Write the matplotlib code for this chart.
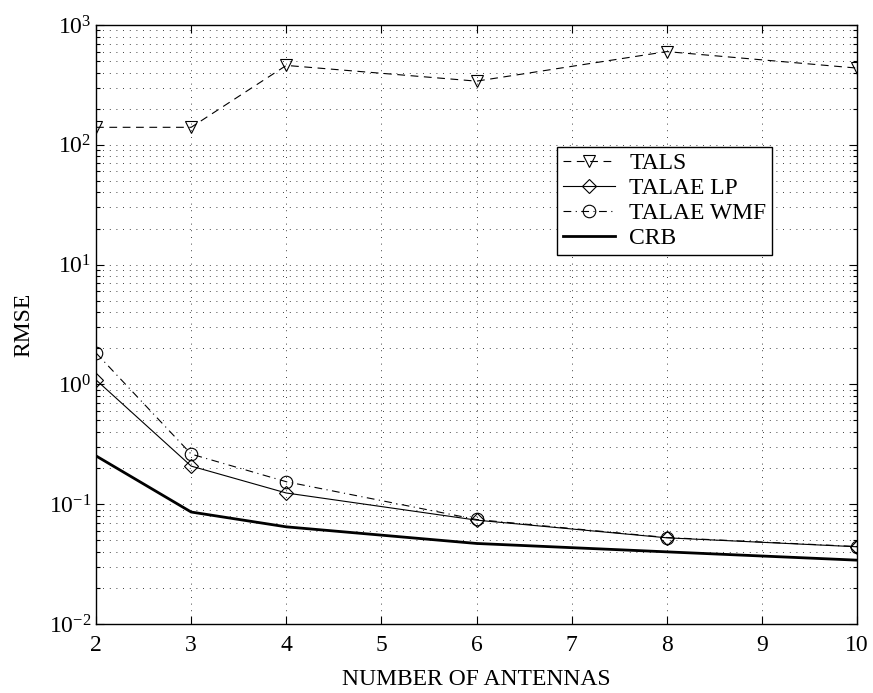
import matplotlib
matplotlib.use("Agg")
import matplotlib.pyplot as plt
from matplotlib.ticker import LogLocator, NullFormatter

plt.rcParams['font.family'] = ['Liberation Serif', 'DejaVu Serif']
plt.rcParams['mathtext.fontset'] = 'custom'
plt.rcParams['mathtext.rm'] = 'Liberation Serif'
plt.rcParams['mathtext.it'] = 'Liberation Serif:italic'

# Number of antennas and RMSE of each estimator
antennas = [2, 3, 4, 6, 8, 10]
tals = [140, 140, 460, 340, 600, 437]
talae_lp = [1.09, 0.208, 0.124, 0.0736, 0.0524, 0.0441]
talae_wmf = [1.83, 0.262, 0.154, 0.0745, 0.0527, 0.0443]
crb = [0.253, 0.086, 0.0647, 0.047, 0.040, 0.0341]

x_ticks = [2, 3, 4, 5, 6, 7, 8, 9, 10]

fig = plt.figure(figsize=(8.73, 6.93), dpi=100)
ax = fig.add_axes([0.110, 0.0996, 0.8717, 0.8643])

ms = 9
ax.semilogy(antennas, tals, color='black', lw=0.8, ls=(0, (7, 5)),
            marker='v', ms=ms, mfc='none', mec='black', mew=0.8, label='TALS')
ax.semilogy(antennas, talae_lp, color='black', lw=0.8, ls='-',
            marker='D', ms=7, mfc='none', mec='black', mew=0.8, label='TALAE LP')
ax.semilogy(antennas, talae_wmf, color='black', lw=0.8, ls=(0, (7, 4, 1, 4)),
            marker='o', ms=ms, mfc='none', mec='black', mew=0.8, label='TALAE WMF')
ax.semilogy(antennas, crb, color='black', lw=2.0, ls='-', label='CRB')

ax.set_xlim(2, 10)
ax.set_ylim(1e-2, 1e3)
ax.set_xticks(x_ticks)
ax.set_xticklabels([str(t) for t in x_ticks])
ax.yaxis.set_major_locator(LogLocator(base=10, numticks=10))
ax.yaxis.set_minor_locator(LogLocator(base=10, subs=range(2, 10), numticks=100))
ax.yaxis.set_minor_formatter(NullFormatter())

grid_style = dict(color='black', ls=(0, (1, 7)), lw=0.6)
ax.grid(True, which='major', axis='both', **grid_style)
ax.grid(True, which='minor', axis='y', **grid_style)

ax.tick_params(which='both', direction='in', top=True, right=True, labelsize=17,
               width=0.8)
ax.tick_params(which='major', length=6)
ax.tick_params(which='minor', length=3)
ax.tick_params(axis='x', pad=8)
for sp in ax.spines.values():
    sp.set_linewidth(1.0)

ax.set_xlabel('NUMBER OF ANTENNAS', fontsize=17, labelpad=9)
ax.set_ylabel('RMSE', fontsize=17, labelpad=10)

leg = ax.legend(loc='upper left', bbox_to_anchor=(0.606, 0.797), fontsize=17,
                fancybox=False, framealpha=1, edgecolor='black', handlelength=2.2,
                borderpad=0.25, labelspacing=0.15, handletextpad=0.6,
                borderaxespad=0)
leg.get_frame().set_linewidth(1.0)

fig.savefig('out.png', dpi=100)
